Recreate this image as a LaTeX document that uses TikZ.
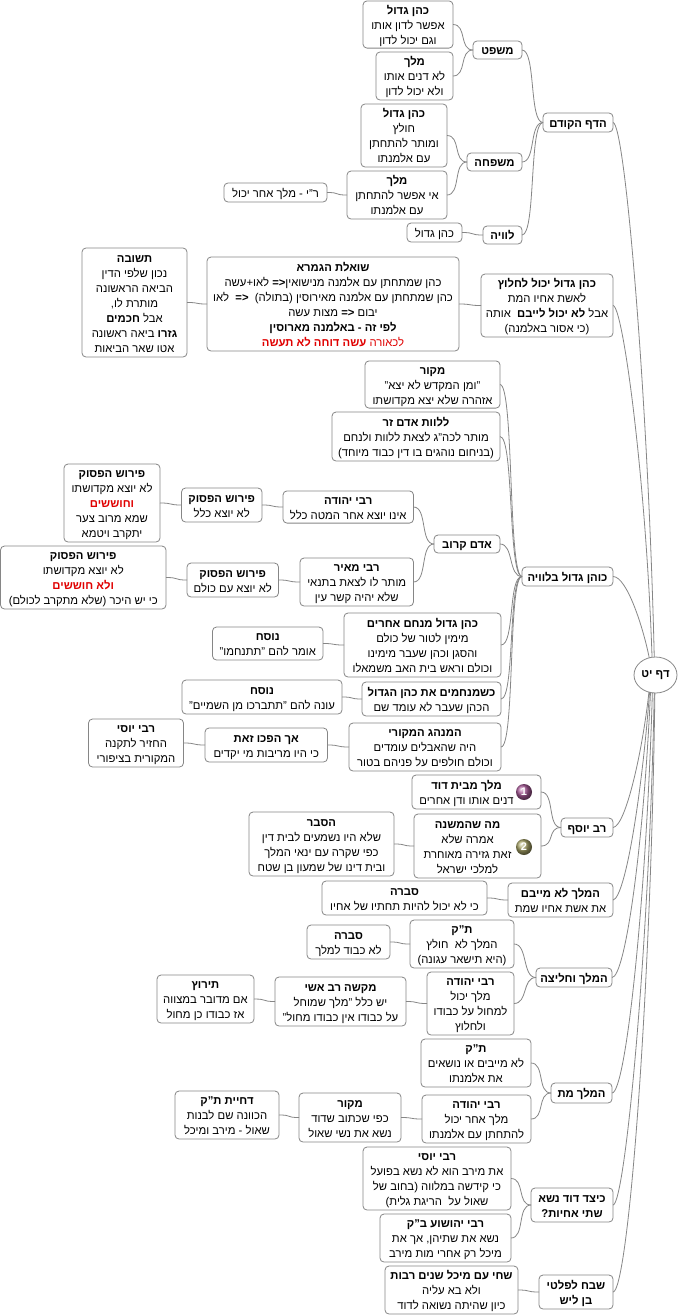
\documentclass[tikz,border=0pt]{standalone}
\usepackage{fontspec}
\setmainfont[Script=Hebrew]{Liberation Sans}
\TeXXeTstate=1
\usetikzlibrary{shapes.geometric}
\definecolor{edgegray}{HTML}{868686}
\definecolor{hotred}{HTML}{E00000}
\definecolor{ballone}{HTML}{A85A98}
\definecolor{balltwo}{HTML}{A8A468}
\newcommand{\Ln}[1]{\beginR #1\endR}
\newcommand{\Hd}[1]{\beginR\textbf{#1}\endR}
\newcommand{\Rd}[1]{\textcolor{hotred}{\beginR #1\endR}}
\newcommand{\LnI}[1]{\mbox{\beginR #1\endR\hspace{20pt}}}
\newcommand{\HdI}[1]{\mbox{\beginR\textbf{#1}\endR\hspace{20pt}}}
\newcommand{\bx}[6]{\node[mapbox,minimum width={(#4-#2)*1pt},minimum height={(#5-#3)*1pt}] (#1) at ({(#2+#4)/2},{(#3+#5)/2}) {\rule{0pt}{13.2pt}#6\rule[-4pt]{0pt}{4pt}};}
\newcommand{\cn}[2]{\draw[link] (#1.east) .. controls +(14,0) and +(-14,0) .. (#2.west);}
\newcommand{\rc}[6]{\draw[link] (#1.east) .. controls +(#3,#4) and +(#5,#6) .. (root.#2);}
\begin{document}
\begin{tikzpicture}[x=1pt,y=-1pt,
  mapbox/.style={draw=edgegray,fill=white,line width=0.8pt,rounded corners=4pt,inner sep=0pt,outer sep=0pt,align=center,font=\fontsize{11.3}{15}\selectfont},
  link/.style={draw=edgegray,line width=0.8pt},
  iconball/.style={circle,minimum size=16pt,inner sep=0pt,text=white,font=\fontsize{11}{12}\selectfont\bfseries}]
\useasboundingbox[fill=white] (0,0) rectangle (678,1315);
\node[ellipse,draw=edgegray,fill=white,line width=0.8pt,minimum width=43pt,minimum height=36pt,inner sep=0pt,outer sep=0pt,font=\fontsize{11.3}{15}\selectfont] (root) at (655.5,675) {\Hd{דף יט}};

\bx{prev}{543}{113}{613}{132}{\Hd{הדף הקודם}}
\bx{mishpat}{473}{41}{522}{59}{\Hd{משפט}}
\bx{kgA}{363}{1}{453}{48}{\Hd{כהן גדול}\\\Ln{אפשר לדון אותו}\\\Ln{וגם יכול לדון}}
\bx{melA}{376}{52}{453}{100}{\Hd{מלך}\\\Ln{לא דנים אותו}\\\Ln{ולא יכול לדון}}
\bx{mishpaha}{467}{153}{522}{171}{\Hd{משפחה}}
\bx{kgB}{361}{104}{447}{167}{\Hd{כהן גדול}\\\Ln{חולץ}\\\Ln{ומותר להתחתן}\\\Ln{עם אלמנתו}}
\bx{melB}{347}{171}{447}{219}{\Hd{מלך}\\\Ln{אי אפשר להתחתן}\\\Ln{עם אלמנתו}}
\bx{ry}{224}{183}{327}{202}{\Ln{ר"י - מלך אחר יכול}}
\bx{levaya}{483}{226}{522}{244}{\Hd{לוויה}}
\bx{kgC}{407}{223}{462}{242}{\Ln{כהן גדול}}

\bx{halitza}{481}{274}{613}{337}{\Hd{כהן גדול יכול לחלוץ}\\\Ln{לאשת אחיו המת}\\\Ln{אבל \textbf{לא יכול לייבם}~ אותה}\\\Ln{(כי אסור באלמנה)}}
\bx{sheela}{207}{257}{459}{351}{\Hd{שואלת הגמרא}\\\Ln{כהן שמתחתן עם אלמנה מנישואין\textbf{<=} לאו+עשה}\\\Ln{כהן שמתחתן עם אלמנה מאירוסין (בתולה)~~\textbf{<=}~~לאו}\\\Ln{יבום \textbf{<=} מצות עשה}\\\Hd{לפי זה - באלמנה מארוסין}\\\Rd{לכאורה \textbf{עשה דוחה לא תעשה}}}
\bx{tshuva}{82}{248}{187}{357}{\Hd{תשובה}\\\Ln{נכון שלפי הדין}\\\Ln{הביאה הראשונה}\\\Ln{מותרת לו,}\\\Ln{אבל \textbf{חכמים}}\\\Ln{\textbf{גזרו} ביאה ראשונה}\\\Ln{אטו שאר הביאות}}

\bx{levaya2}{522}{567}{613}{586}{\Hd{כוהן גדול בלוויה}}
\bx{makor}{365}{361}{500}{408}{\Hd{מקור}\\\Ln{"ומן המקדש לא יצא"}\\\Ln{אזהרה שלא יצא מקדושתו}}
\bx{zar}{332}{412}{500}{461}{\Hd{ללוות אדם זר}\\\Ln{מותר לכה"ג לצאת ללוות ולנחם}\\\Ln{(בניחום נוהגים בו דין כבוד מיוחד)}}
\bx{karov}{434}{535}{500}{553}{\Hd{אדם קרוב}}
\bx{ryh}{283}{491}{413.5}{523}{\Hd{רבי יהודה}\\\Ln{אינו יוצא אחר המטה כלל}}
\bx{pasA}{181.5}{488}{262}{522}{\Hd{פירוש הפסוק}\\\Ln{לא יוצא כלל}}
\bx{pasB}{64}{464}{160}{542}{\Hd{פירוש הפסוק}\\\Ln{לא יוצא מקדושתו}\\\Rd{\textbf{וחוששים}}\\\Ln{שמא מרוב צער}\\\Ln{יתקרב ויטמא}}
\bx{rm}{300}{558}{413.5}{606}{\Hd{רבי מאיר}\\\Ln{מותר לו לצאת בתנאי}\\\Ln{שלא יהיה קשר עין}}
\bx{pasC}{187}{563}{278.5}{597}{\Hd{פירוש הפסוק}\\\Ln{לא יוצא עם כולם}}
\bx{pasD}{0.5}{546}{166}{609}{\Hd{פירוש הפסוק}\\\Ln{לא יוצא מקדושתו}\\\Rd{\textbf{ולא חוששים}}\\\Ln{כי יש היכר (שלא מתקרב לכולם)}}
\bx{menahem}{344}{613}{501}{677}{\Hd{כהן גדול מנחם אחרים}\\\Ln{מימין לטור של כולם}\\\Ln{והסגן וכהן שעבר מימינו}\\\Ln{וכולם וראש בית האב משמאלו}}
\bx{nusA}{212.5}{627}{323}{660}{\Hd{נוסח}\\\Ln{אומר להם "תתנחמו"}}
\bx{kshe}{362}{682}{501}{716}{\Hd{כשמנחמים את כהן הגדול}\\\Ln{הכהן שעבר לא עומד שם}}
\bx{nusB}{182}{680}{342}{714}{\Hd{נוסח}\\\Ln{עונה להם "תתברכו מן השמיים"}}
\bx{minhag}{349}{723}{501}{771}{\Hd{המנהג המקורי}\\\Ln{היה שהאבלים עומדים}\\\Ln{וכולם חולפים על פניהם בטור}}
\bx{hafchu}{205}{728}{327.5}{762}{\Hd{אך הפכו זאת}\\\Ln{כי היו מריבות מי יקדים}}
\bx{rys}{88.5}{719}{183.5}{767}{\Hd{רבי יוסי}\\\Ln{החזיר לתקנה}\\\Ln{המקורית בציפורי}}

\bx{ravy}{561}{818}{613}{837}{\Hd{רב יוסף}}
\bx{beitdavid}{412}{775}{541}{809}{\HdI{מלך מבית דוד}\\\LnI{דנים אותו ודן אחרים}}
\bx{mishna}{414}{814}{541}{878}{\HdI{מה שהמשנה}\\\LnI{אמרה שלא}\\\LnI{זאת גזירה מאוחרת}\\\LnI{למלכי ישראל}}
\bx{hesber}{249}{812}{394}{876}{\Hd{הסבר}\\\Ln{שלא היו נשמעים לבית דין}\\\Ln{כפי שקרה עם ינאי המלך}\\\Ln{ובית דינו של שמעון בן שטח}}
\node[iconball,ball color=ballone] (iconA) at (524,792) {1};
\node[iconball,ball color=balltwo] (iconB) at (524,847) {2};

\bx{meyabem}{508}{883}{613}{917}{\Hd{המלך לא מייבם}\\\Ln{את אשת אחיו שמת}}
\bx{svA}{322}{881}{487}{915}{\Hd{סברה}\\\Ln{כי לא יכול להיות תחתיו של אחיו}}
\bx{melhal}{536}{968}{612}{987}{\Hd{המלך וחליצה}}
\bx{tkA}{410}{920}{514}{968}{\Hd{ת"ק}\\\Ln{המלך לא~ חולץ}\\\Ln{(היא תישאר עגונה)}}
\bx{svB}{307}{925}{390}{959}{\Hd{סברה}\\\Ln{לא כבוד למלך}}
\bx{ryB}{427}{972}{514}{1035}{\Hd{רבי יהודה}\\\Ln{מלך יכול}\\\Ln{למחול על כבודו}\\\Ln{ולחלוץ}}
\bx{makshe}{275}{977}{406}{1026}{\Hd{מקשה רב אשי}\\\Ln{יש כלל "מלך שמוחל}\\\Ln{על כבודו אין כבודו מחול"}}
\bx{teruz}{157}{975}{254}{1023}{\Hd{תירוץ}\\\Ln{אם מדובר במצווה}\\\Ln{אז כבודו כן מחול}}

\bx{melmet}{551}{1083}{612}{1103}{\Hd{המלך מת}}
\bx{tkB}{421}{1039}{531}{1087}{\Hd{ת"ק}\\\Ln{לא מייבים או נושאים}\\\Ln{את אלמנתו}}
\bx{ryC}{422}{1095}{531}{1143}{\Hd{רבי יהודה}\\\Ln{מלך אחר יכול}\\\Ln{להתחתן עם אלמנתו}}
\bx{makB}{299}{1093}{401}{1142}{\Hd{מקור}\\\Ln{כפי שכתוב שדוד}\\\Ln{נשא את נשי שאול}}
\bx{dhiya}{175}{1091}{279}{1139}{\Hd{דחיית ת"ק}\\\Ln{הכוונה שם לבנות}\\\Ln{שאול - מירב ומיכל}}

\bx{keizad}{531}{1188}{613}{1222}{\Hd{כיצד דוד נשא}\\\Hd{שתי אחיות?}}
\bx{rysB}{363}{1147}{511}{1210}{\Hd{רבי יוסי}\\\Ln{את מירב הוא לא נשא בפועל}\\\Ln{כי קידשה במלווה (בחוב של}\\\Ln{שאול על~ הריגת גלית)}}
\bx{ryshua}{380}{1214}{511}{1262}{\Hd{רבי יהושוע ב"ק}\\\Ln{נשא את שתיהן, אך את}\\\Ln{מיכל רק אחרי מות מירב}}
\bx{shevah}{539}{1275}{613}{1309}{\Hd{שבח לפלטי}\\\Hd{בן ליש}}
\bx{shahi}{385}{1266}{518}{1314}{\Hd{שחי עם מיכל שנים רבות}\\\Ln{ולא בא עליה}\\\Ln{כיון שהיתה נשואה לדוד}}

\cn{kgA}{mishpat}\cn{melA}{mishpat}\cn{kgB}{mishpaha}\cn{melB}{mishpaha}\cn{ry}{melB}\cn{kgC}{levaya}
\cn{mishpat}{prev}\cn{mishpaha}{prev}\cn{levaya}{prev}
\cn{sheela}{halitza}\cn{tshuva}{sheela}
\cn{makor}{levaya2}\cn{zar}{levaya2}\cn{karov}{levaya2}\cn{menahem}{levaya2}\cn{kshe}{levaya2}\cn{minhag}{levaya2}
\cn{ryh}{karov}\cn{rm}{karov}\cn{pasA}{ryh}\cn{pasB}{pasA}\cn{pasC}{rm}\cn{pasD}{pasC}
\cn{nusA}{menahem}\cn{nusB}{kshe}\cn{hafchu}{minhag}\cn{rys}{hafchu}
\cn{beitdavid}{ravy}\cn{mishna}{ravy}\cn{hesber}{mishna}
\cn{svA}{meyabem}
\cn{tkA}{melhal}\cn{ryB}{melhal}\cn{svB}{tkA}\cn{makshe}{ryB}\cn{teruz}{makshe}
\cn{tkB}{melmet}\cn{ryC}{melmet}\cn{makB}{ryC}\cn{dhiya}{makB}
\cn{rysB}{keizad}\cn{ryshua}{keizad}\cn{shahi}{shevah}

\rc{prev}{94}{12}{0}{-6}{-257}
\rc{halitza}{101}{10}{0}{-6}{-177}
\rc{levaya2}{110}{14}{0}{-6}{-30}
\rc{ravy}{249}{13}{-1}{-6}{56}
\rc{meyabem}{251}{12}{-2}{-8}{106}
\rc{melhal}{254}{13}{0}{-7}{156}
\rc{melmet}{260}{14}{0}{-6}{206}
\rc{keizad}{266}{12}{0}{-5}{256}
\rc{shevah}{268}{15}{0}{-4}{306}
\end{tikzpicture}
\end{document}
